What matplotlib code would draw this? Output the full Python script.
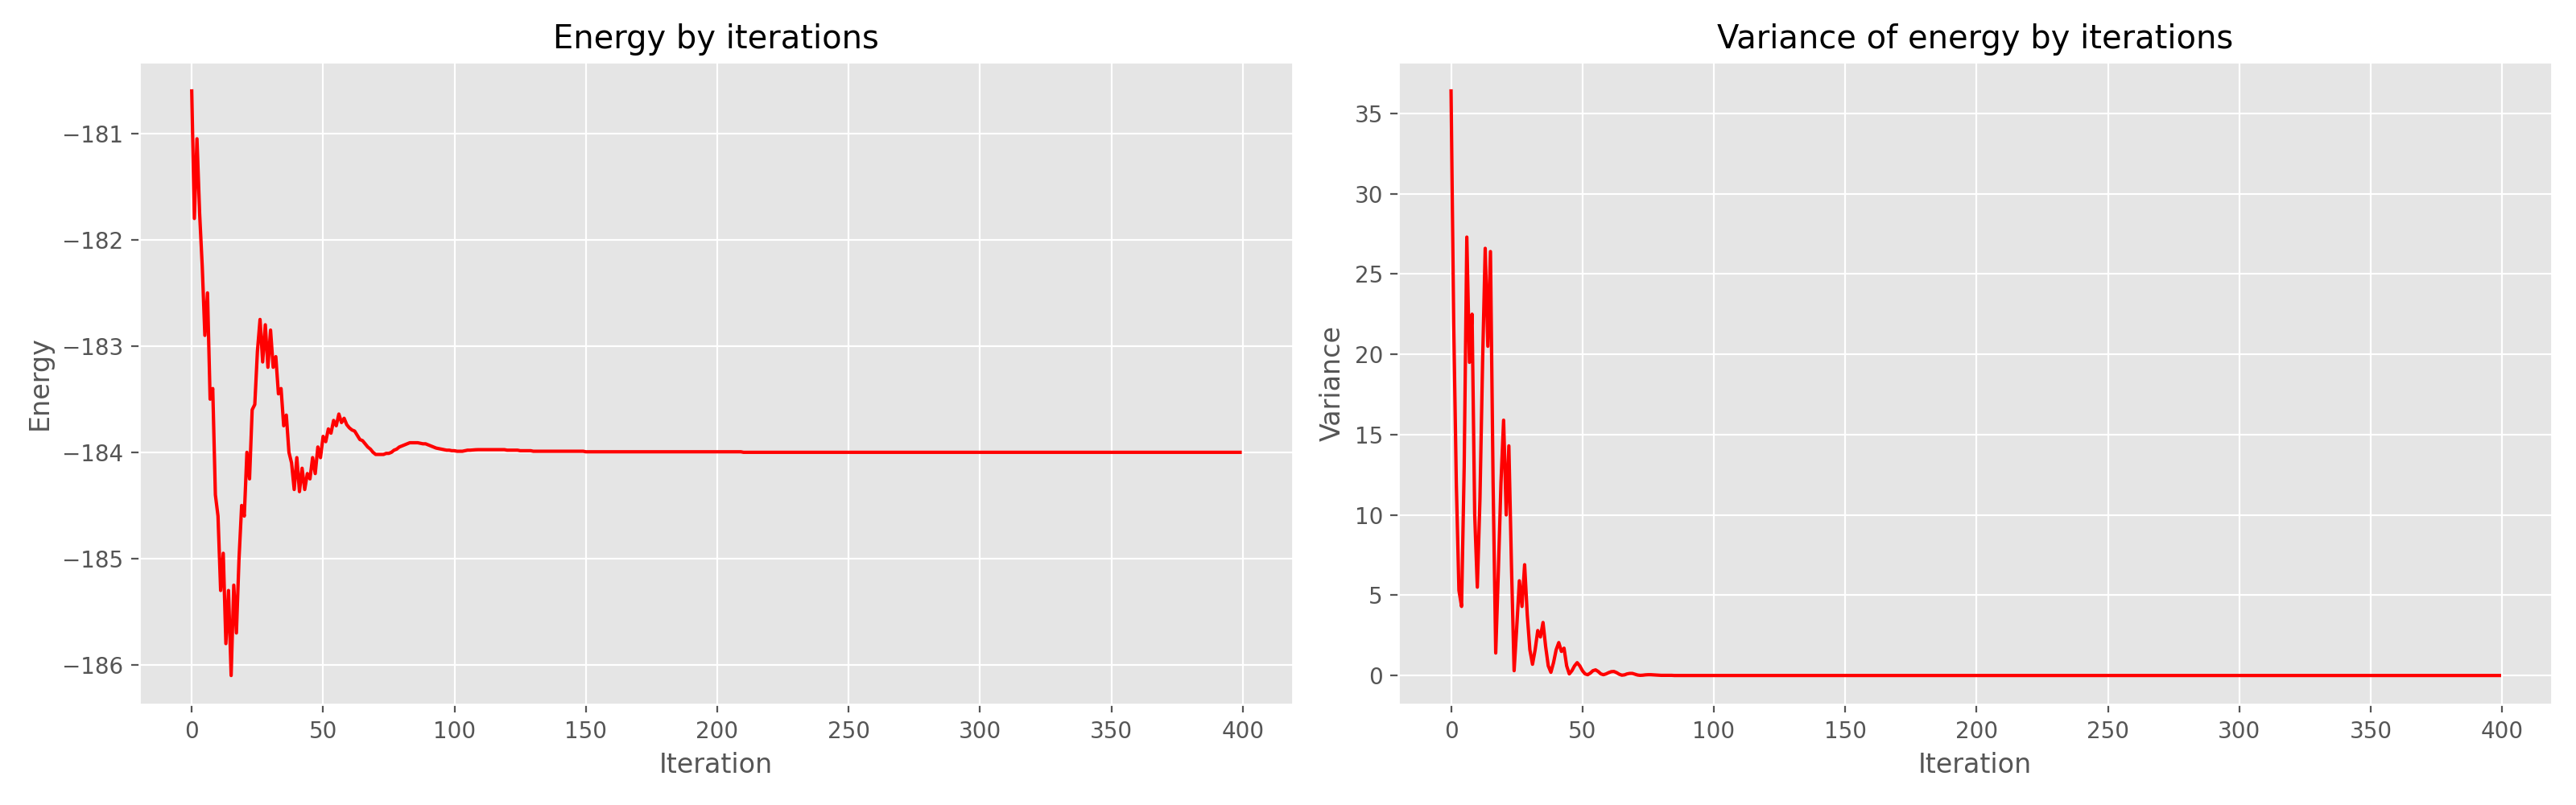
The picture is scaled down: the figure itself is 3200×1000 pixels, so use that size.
import matplotlib
matplotlib.use("Agg")
import matplotlib.pyplot as plt

plt.style.use("ggplot")

# energy per iteration (0..399)
energy = [
    -180.60, -181.80, -181.05, -181.75, -182.25, -182.90, -182.50, -183.50, -183.40, -184.40,
    -184.60, -185.30, -184.95, -185.80, -185.30, -186.10, -185.25, -185.70, -185.00, -184.50,
    -184.60, -184.00, -184.25, -183.60, -183.55, -183.05, -182.75, -183.15, -182.80, -183.20,
    -182.85, -183.20, -183.10, -183.45, -183.40, -183.75, -183.65, -184.00, -184.10, -184.35,
    -184.05, -184.37, -184.15, -184.35, -184.20, -184.25, -184.05, -184.20, -183.95, -184.05,
    -183.85, -183.90, -183.78, -183.82, -183.70, -183.75, -183.64, -183.72, -183.68, -183.74,
    -183.77, -183.79, -183.80, -183.84, -183.88, -183.89, -183.92, -183.95, -183.97, -184.00,
    -184.02, -184.02, -184.02, -184.02, -184.01, -184.01, -184.00, -183.98, -183.97, -183.95,
    -183.94, -183.93, -183.92, -183.91, -183.91, -183.91, -183.91, -183.915, -183.92, -183.92,
    -183.93, -183.94, -183.95, -183.96, -183.965, -183.97, -183.975, -183.98, -183.98, -183.985,
    -183.985, -183.99, -183.99, -183.99, -183.985, -183.98, -183.98, -183.978, -183.976, -183.975,
    -183.975, -183.975, -183.975, -183.975, -183.975, -183.975, -183.975, -183.975, -183.975, -183.975,
    -183.98, -183.98, -183.98, -183.98, -183.98, -183.985, -183.985, -183.985, -183.985, -183.985,
    -183.99, -183.99, -183.99, -183.99, -183.99, -183.99, -183.99, -183.99, -183.99, -183.99,
    -183.99, -183.99, -183.99, -183.99, -183.99, -183.99, -183.99, -183.99, -183.99, -183.99,
    -183.995, -183.995, -183.995, -183.995, -183.995, -183.995, -183.995, -183.995, -183.995, -183.995,
    -183.995, -183.995, -183.995, -183.995, -183.995, -183.995, -183.995, -183.995, -183.995, -183.995,
    -183.995, -183.995, -183.995, -183.995, -183.995, -183.995, -183.995, -183.995, -183.995, -183.995,
    -183.995, -183.995, -183.995, -183.995, -183.995, -183.995, -183.995, -183.995, -183.995, -183.995,
    -183.995, -183.995, -183.995, -183.995, -183.995, -183.995, -183.995, -183.995, -183.995, -183.995,
    -183.995, -183.995, -183.995, -183.995, -183.995, -183.995, -183.995, -183.995, -183.995, -183.995,
    -184.0, -184.0, -184.0, -184.0, -184.0, -184.0, -184.0, -184.0, -184.0, -184.0,
    -184.0, -184.0, -184.0, -184.0, -184.0, -184.0, -184.0, -184.0, -184.0, -184.0,
    -184.0, -184.0, -184.0, -184.0, -184.0, -184.0, -184.0, -184.0, -184.0, -184.0,
    -184.0, -184.0, -184.0, -184.0, -184.0, -184.0, -184.0, -184.0, -184.0, -184.0,
    -184.0, -184.0, -184.0, -184.0, -184.0, -184.0, -184.0, -184.0, -184.0, -184.0,
    -184.0, -184.0, -184.0, -184.0, -184.0, -184.0, -184.0, -184.0, -184.0, -184.0,
    -184.0, -184.0, -184.0, -184.0, -184.0, -184.0, -184.0, -184.0, -184.0, -184.0,
    -184.0, -184.0, -184.0, -184.0, -184.0, -184.0, -184.0, -184.0, -184.0, -184.0,
    -184.0, -184.0, -184.0, -184.0, -184.0, -184.0, -184.0, -184.0, -184.0, -184.0,
    -184.0, -184.0, -184.0, -184.0, -184.0, -184.0, -184.0, -184.0, -184.0, -184.0,
    -184.0, -184.0, -184.0, -184.0, -184.0, -184.0, -184.0, -184.0, -184.0, -184.0,
    -184.0, -184.0, -184.0, -184.0, -184.0, -184.0, -184.0, -184.0, -184.0, -184.0,
    -184.0, -184.0, -184.0, -184.0, -184.0, -184.0, -184.0, -184.0, -184.0, -184.0,
    -184.0, -184.0, -184.0, -184.0, -184.0, -184.0, -184.0, -184.0, -184.0, -184.0,
    -184.0, -184.0, -184.0, -184.0, -184.0, -184.0, -184.0, -184.0, -184.0, -184.0,
    -184.0, -184.0, -184.0, -184.0, -184.0, -184.0, -184.0, -184.0, -184.0, -184.0,
    -184.0, -184.0, -184.0, -184.0, -184.0, -184.0, -184.0, -184.0, -184.0, -184.0,
    -184.0, -184.0, -184.0, -184.0, -184.0, -184.0, -184.0, -184.0, -184.0, -184.0,
    -184.0, -184.0, -184.0, -184.0, -184.0, -184.0, -184.0, -184.0, -184.0, -184.0,
]

# variance of the energy per iteration
variance = [
    36.4, 22.0, 12.0, 5.3, 4.3, 13.0, 27.3, 19.5, 22.5, 10.0,
    5.5, 11.0, 19.5, 26.6, 20.5, 26.4, 12.0, 1.4, 6.5, 12.0,
    15.9, 10.0, 14.3, 6.8, 0.3, 3.0, 5.9, 4.3, 6.9, 3.8,
    1.6, 0.7, 1.6, 2.8, 2.4, 3.3, 1.8, 0.6, 0.2, 0.8,
    1.6, 2.05, 1.5, 1.7, 0.6, 0.1, 0.3, 0.6, 0.8, 0.6,
    0.3, 0.1, 0.05, 0.15, 0.3, 0.35, 0.25, 0.1, 0.05, 0.1,
    0.18, 0.24, 0.25, 0.18, 0.08, 0.02, 0.04, 0.1, 0.13, 0.13,
    0.08, 0.03, 0.01, 0.02, 0.04, 0.05, 0.05, 0.04, 0.03, 0.02,
    0.01, 0.01, 0.01, 0.01, 0.01, 0.0, 0.0, 0.0, 0.0, 0.0,
    0.0, 0.0, 0.0, 0.0, 0.0, 0.0, 0.0, 0.0, 0.0, 0.0,
    0.0, 0.0, 0.0, 0.0, 0.0, 0.0, 0.0, 0.0, 0.0, 0.0,
    0.0, 0.0, 0.0, 0.0, 0.0, 0.0, 0.0, 0.0, 0.0, 0.0,
    0.0, 0.0, 0.0, 0.0, 0.0, 0.0, 0.0, 0.0, 0.0, 0.0,
    0.0, 0.0, 0.0, 0.0, 0.0, 0.0, 0.0, 0.0, 0.0, 0.0,
    0.0, 0.0, 0.0, 0.0, 0.0, 0.0, 0.0, 0.0, 0.0, 0.0,
    0.0, 0.0, 0.0, 0.0, 0.0, 0.0, 0.0, 0.0, 0.0, 0.0,
    0.0, 0.0, 0.0, 0.0, 0.0, 0.0, 0.0, 0.0, 0.0, 0.0,
    0.0, 0.0, 0.0, 0.0, 0.0, 0.0, 0.0, 0.0, 0.0, 0.0,
    0.0, 0.0, 0.0, 0.0, 0.0, 0.0, 0.0, 0.0, 0.0, 0.0,
    0.0, 0.0, 0.0, 0.0, 0.0, 0.0, 0.0, 0.0, 0.0, 0.0,
    0.0, 0.0, 0.0, 0.0, 0.0, 0.0, 0.0, 0.0, 0.0, 0.0,
    0.0, 0.0, 0.0, 0.0, 0.0, 0.0, 0.0, 0.0, 0.0, 0.0,
    0.0, 0.0, 0.0, 0.0, 0.0, 0.0, 0.0, 0.0, 0.0, 0.0,
    0.0, 0.0, 0.0, 0.0, 0.0, 0.0, 0.0, 0.0, 0.0, 0.0,
    0.0, 0.0, 0.0, 0.0, 0.0, 0.0, 0.0, 0.0, 0.0, 0.0,
    0.0, 0.0, 0.0, 0.0, 0.0, 0.0, 0.0, 0.0, 0.0, 0.0,
    0.0, 0.0, 0.0, 0.0, 0.0, 0.0, 0.0, 0.0, 0.0, 0.0,
    0.0, 0.0, 0.0, 0.0, 0.0, 0.0, 0.0, 0.0, 0.0, 0.0,
    0.0, 0.0, 0.0, 0.0, 0.0, 0.0, 0.0, 0.0, 0.0, 0.0,
    0.0, 0.0, 0.0, 0.0, 0.0, 0.0, 0.0, 0.0, 0.0, 0.0,
    0.0, 0.0, 0.0, 0.0, 0.0, 0.0, 0.0, 0.0, 0.0, 0.0,
    0.0, 0.0, 0.0, 0.0, 0.0, 0.0, 0.0, 0.0, 0.0, 0.0,
    0.0, 0.0, 0.0, 0.0, 0.0, 0.0, 0.0, 0.0, 0.0, 0.0,
    0.0, 0.0, 0.0, 0.0, 0.0, 0.0, 0.0, 0.0, 0.0, 0.0,
    0.0, 0.0, 0.0, 0.0, 0.0, 0.0, 0.0, 0.0, 0.0, 0.0,
    0.0, 0.0, 0.0, 0.0, 0.0, 0.0, 0.0, 0.0, 0.0, 0.0,
    0.0, 0.0, 0.0, 0.0, 0.0, 0.0, 0.0, 0.0, 0.0, 0.0,
    0.0, 0.0, 0.0, 0.0, 0.0, 0.0, 0.0, 0.0, 0.0, 0.0,
    0.0, 0.0, 0.0, 0.0, 0.0, 0.0, 0.0, 0.0, 0.0, 0.0,
    0.0, 0.0, 0.0, 0.0, 0.0, 0.0, 0.0, 0.0, 0.0, 0.0,
]

iterations = list(range(len(energy)))

fig, (ax1, ax2) = plt.subplots(1, 2, figsize=(16, 5))

ax1.plot(iterations, energy, color="red")
ax1.set_title("Energy by iterations")
ax1.set_xlabel("Iteration")
ax1.set_ylabel("Energy")

ax2.plot(iterations, variance, color="red")
ax2.set_title("Variance of energy by iterations")
ax2.set_xlabel("Iteration")
ax2.set_ylabel("Variance")

plt.tight_layout()
plt.savefig("out.png", dpi=200)
